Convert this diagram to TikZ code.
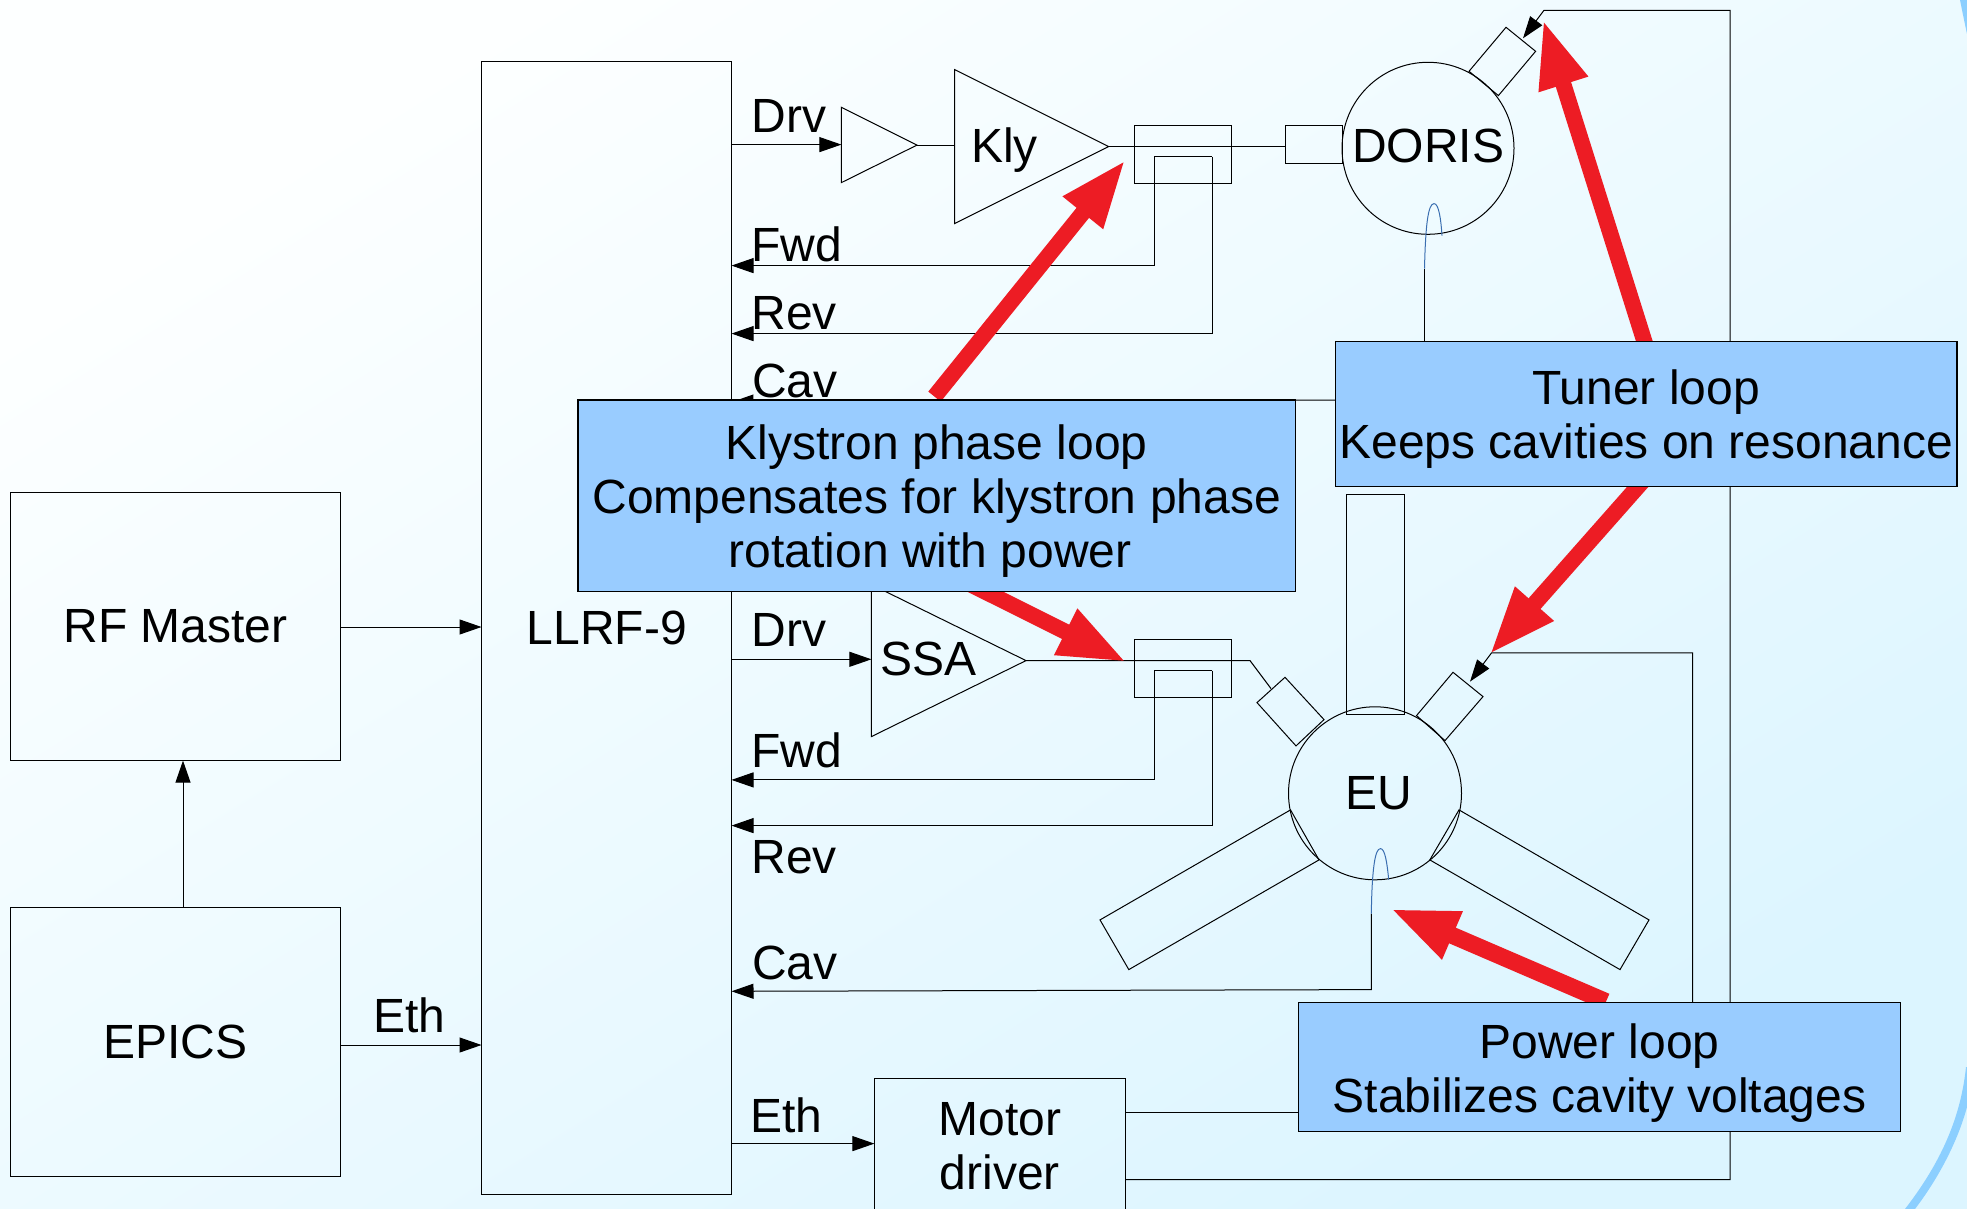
\documentclass[tikz,border=0pt]{standalone}
\usepackage{fontspec}
\setmainfont{Liberation Sans}
\usetikzlibrary{arrows.meta}
\definecolor{bgA}{HTML}{FDFFFF}
\definecolor{bgB}{HTML}{DCF5FF}
\definecolor{bandC}{HTML}{8CCFFF}
\definecolor{boxblue}{HTML}{99CCFF}
\definecolor{loopred}{HTML}{ED1C24}
\definecolor{loopwire}{HTML}{3A6EB0}
\newcommand{\dropline}{\rule{0pt}{46pt}}
\tikzset{
  x=1pt,y=-1pt,
  bigtext/.style={font=\fontsize{48pt}{54pt}\selectfont},
  wire/.style={draw=black,line width=1pt,line join=miter},
  sig/.style={wire,-{Triangle[length=22pt,width=15pt]}},
  plainbox/.style={wire,rectangle,inner sep=0pt,outer sep=0pt,bigtext,align=center},
  bluebox/.style={draw=black,line width=1.1pt,fill=boxblue,rectangle,inner sep=0pt,outer sep=0pt,bigtext,align=center},
  ring/.style={wire,circle,inner sep=0pt,outer sep=0pt,bigtext},
  lbl/.style={bigtext,anchor=base west,inner sep=0pt,outer sep=0pt},
  fat/.style={draw=loopred,line width=16pt,-{Triangle[length=68pt,width=47pt]}},
  pickup/.style={draw=loopwire,line width=1pt},
}
\begin{document}
\begin{tikzpicture}
\clip (0,0) rectangle (1967,1209);
\shade[top color=bgA,bottom color=bgB,shading angle=32] (0,0) rectangle (1967,1209);
% corner bands
\fill[bandC] (1960,0) .. controls (1962,10) and (1964,20) .. (1967,34) -- (1967,0) -- cycle;
\fill[bandC] (1967,1067) -- (1967,1107) .. controls (1958,1140) and (1940,1176) .. (1915,1209) -- (1905,1209) .. controls (1935,1170) and (1960,1125) .. (1966,1067) -- cycle;

\begin{scope}[yshift=-0.6pt]
% ---- boxes
\node[plainbox,minimum width=330.8pt,minimum height=268.4pt] (rf) at (175.4,625.8) {RF Master};
\node[plainbox,minimum width=330.8pt,minimum height=269pt] (epics) at (175.4,1041.4) {EPICS};
\node[plainbox,minimum width=249.5pt,minimum height=1132.6pt] (llrf) at (606.7,627.3) {LLRF-9};
\node[plainbox,minimum width=250.6pt,minimum height=136.8pt] (motor) at (999.7,1146) {Motor\\driver};

% ---- amplifiers
\coordinate (d1) at (841.4,106.7); \coordinate (d2) at (841.4,182); \coordinate (dt) at (917,144.5); \coordinate (dl) at (841.4,144);
\draw[wire] (d1) -- (dt) -- (d2) -- cycle;
\coordinate (k1) at (954.6,69); \coordinate (k2) at (954.6,223); \coordinate (kt) at (1108.6,146); \coordinate (kl) at (954.6,144.5);
\draw[wire] (k1) -- (kt) -- (k2) -- cycle;
\coordinate (s1) at (871.4,584); \coordinate (s2) at (871.4,736); \coordinate (st) at (1026,660); \coordinate (sl) at (871.4,658.7);
\draw[wire] (s1) -- (st) -- (s2) -- cycle;

% ---- couplers
\node[wire,rectangle,inner sep=0pt,outer sep=0pt,minimum width=97pt,minimum height=57.7pt] (c1) at (1182.5,153.9) {};
\node[wire,rectangle,inner sep=0pt,outer sep=0pt,minimum width=97pt,minimum height=58pt] (c2) at (1182.5,668.3) {};

% ---- DORIS
\node[ring,minimum size=172pt,text depth=5pt] (doris) at (1428,147.7) {DORIS};
\node[wire,rectangle,inner sep=0pt,outer sep=0pt,minimum width=57pt,minimum height=38.3pt] (stub) at (1313.5,143.9) {};
\coordinate (t1) at (1469,70.7); \coordinate (t2) at (1506,26.7); \coordinate (t3) at (1535.6,50.7); \coordinate (t4) at (1498.4,95);
\draw[wire] (t1) -- (t2) -- (t3) -- (t4) -- cycle;

% ---- EU
\node[plainbox,minimum width=58.1pt,minimum height=220.3pt] (wgtop) at (1375.4,604.2) {};
\node[ring,minimum size=173pt] (eu) at (1375,792.7) {\hspace*{8pt}EU};
\coordinate (a1) at (1257,702); \coordinate (a2) at (1285,676.7); \coordinate (a3) at (1324,719); \coordinate (a4) at (1296,745.3);
\draw[wire] (a1) -- (a2) -- (a3) -- (a4) -- cycle;
\coordinate (b1) at (1416.5,715); \coordinate (b2) at (1453,671.7); \coordinate (b3) at (1483,696); \coordinate (b4) at (1445,740);
\draw[wire] (b1) -- (b2) -- (b3) -- (b4) -- cycle;
\coordinate (l1) at (1290.5,809.3); \coordinate (l2) at (1100,919.3); \coordinate (l3) at (1128.8,969); \coordinate (l4) at (1319,859.3);
\draw[wire] (l1) -- (l2) -- (l3) -- (l4) -- cycle;
\coordinate (r1) at (1459,809.3); \coordinate (r2) at (1649,919.3); \coordinate (r3) at (1620,969); \coordinate (r4) at (1429.8,859.3);
\draw[wire] (r1) -- (r2) -- (r3) -- (r4) -- cycle;

% ---- left side connectors
\coordinate (rfr) at (340.8,626.4); \coordinate (rfl) at (481.5,626.4);
\draw[sig] (rfr) -- (rfl);
\coordinate (epu) at (183,906.8); \coordinate (rfb) at (183,760);
\draw[sig] (epu) -- (rfb);
\coordinate (epr) at (340.8,1044.4); \coordinate (lle) at (481.5,1044.4);
\draw[sig] (epr) -- (lle);

% ---- upper RF chain
\coordinate (ll1) at (731.5,144);
\draw[sig] (ll1) -- (dl);
\draw[wire] (dt) -- (kl);
\draw[wire] (kt) -- (stub.west |- kt);
\coordinate (f1a) at (1154,156); \coordinate (f1b) at (1154,265); \coordinate (f1c) at (731.5,265);
\coordinate (f1d) at (1212,156); \coordinate (f1e) at (1212,333); \coordinate (f1f) at (731.5,333);
\draw[sig] (f1d) -- (f1e) -- (f1f);
\draw[wire] (f1a) -- (f1d);
\draw[sig] (f1a) -- (f1b) -- (f1c);

% ---- lower RF chain
\coordinate (ll2) at (731.5,658.7);
\draw[sig] (ll2) -- (sl);
\coordinate (s3) at (1250,660); \coordinate (s4) at (1271,688);
\draw[wire] (st) -- (s3) -- (s4);
\coordinate (f2a) at (1154,670); \coordinate (f2b) at (1154,779.3); \coordinate (f2c) at (731.5,779.3);
\coordinate (f2d) at (1212,670); \coordinate (f2e) at (1212,825); \coordinate (f2f) at (731.5,825);
\draw[sig] (f2d) -- (f2e) -- (f2f);
\draw[wire] (f2a) -- (f2d);
\draw[sig] (f2a) -- (f2b) -- (f2c);

% ---- cavity pick-ups
\coordinate (pd0) at (1424.5,340.7); \coordinate (pd1) at (1424.5,268);
\draw[wire] (pd0) -- (pd1);
\draw[pickup] (pd1) .. controls (1425.5,225) and (1428,203) .. (1434,203) .. controls (1439,203) and (1441,220) .. (1442,235);
\coordinate (cvA) at (1335.5,399.5); \coordinate (cvB) at (731.5,401.5);
\draw[sig] (cvA) -- (cvB);
\coordinate (pe1) at (1371.3,913); \coordinate (pe2) at (1371.3,989); \coordinate (cvC) at (731.5,990.7);
\draw[sig] (pe1) -- (pe2) -- (cvC);
\draw[pickup] (pe1) .. controls (1372,868) and (1375,848) .. (1380.4,848) .. controls (1385,848) and (1387,862) .. (1388.7,879);

% ---- motor connectors
\coordinate (ll3) at (731.5,1143); \coordinate (mtl) at (874.4,1143);
\draw[sig] (ll3) -- (mtl);
\coordinate (mr1) at (1125,1111.5); \coordinate (pl1) at (1298.5,1111.5);
\draw[wire] (mr1) -- (pl1);
\coordinate (mr2) at (1125,1179); \coordinate (tr1) at (1730,1179); \coordinate (tr2) at (1730,9.7); \coordinate (tr3) at (1544,9.7); \coordinate (tr4) at (1523,37.7);
\draw[sig] (mr2) -- (tr1) -- (tr2) -- (tr3) -- (tr4);
\coordinate (pw1) at (1692.5,1002); \coordinate (pw2) at (1692.5,652.3); \coordinate (pw3) at (1491.5,652.3); \coordinate (pw4) at (1470,681);
\draw[sig] (pw1) -- (pw2) -- (pw3) -- (pw4);

% ---- red loop arrows
\coordinate (ra0) at (934.5,396); \coordinate (ra1) at (1125.5,159.3);
\draw[fat] (ra0) -- (ra1);
\coordinate (rb0) at (965,581); \coordinate (rb1) at (1126.5,661.5);
\draw[fat] (rb0) -- (rb1);
\coordinate (rc0) at (1652,365); \coordinate (rc1) at (1543,19);
\draw[fat] (rc0) -- (rc1);
\coordinate (rd0) at (1660,461); \coordinate (rd1) at (1489.5,654);
\draw[fat] (rd0) -- (rd1);
\coordinate (re0) at (1606,1001); \coordinate (re1) at (1390,908);
\draw[fat,line width=17pt] (re0) -- (re1);

% ---- signal labels
\node[lbl] (drv1) at (751.5,131.5) {Drv};
\node[lbl] (fwd1) at (751.5,260.5) {Fwd};
\node[lbl] (rev1) at (751.5,328.5) {Rev};
\node[lbl] (cav1) at (752,397) {Cav};
\node[lbl] (drv2) at (751.5,645.7) {Drv};
\node[lbl] (fwd2) at (751.5,766.5) {Fwd};
\node[lbl] (rev2) at (751.5,872.5) {Rev};
\node[lbl] (cav2) at (752,978.5) {Cav};
\node[lbl] (eth1) at (373.5,1031.5) {Eth};
\node[lbl] (eth2) at (750.5,1132) {Eth};
\node[lbl] (kly) at (971,162) {Kly};
\node[lbl] (ssa) at (880,675) {SSA};

% ---- callouts
\node[bluebox,minimum width=717.4pt,minimum height=191.7pt] (kbox) at (936.7,495.2)
  {\dropline Klystron phase loop\\Compensates for klystron phase\\rotation with power\hspace*{13pt}};
\node[bluebox,minimum width=621.5pt,minimum height=145.3pt] (tbox) at (1646.2,413.3)
  {\dropline Tuner loop\\Keeps cavities on resonance};
\node[bluebox,minimum width=602.2pt,minimum height=129pt] (pbox) at (1599.6,1066.5)
  {\dropline Power loop\\Stabilizes cavity voltages};
\end{scope}
\end{tikzpicture}
\end{document}
